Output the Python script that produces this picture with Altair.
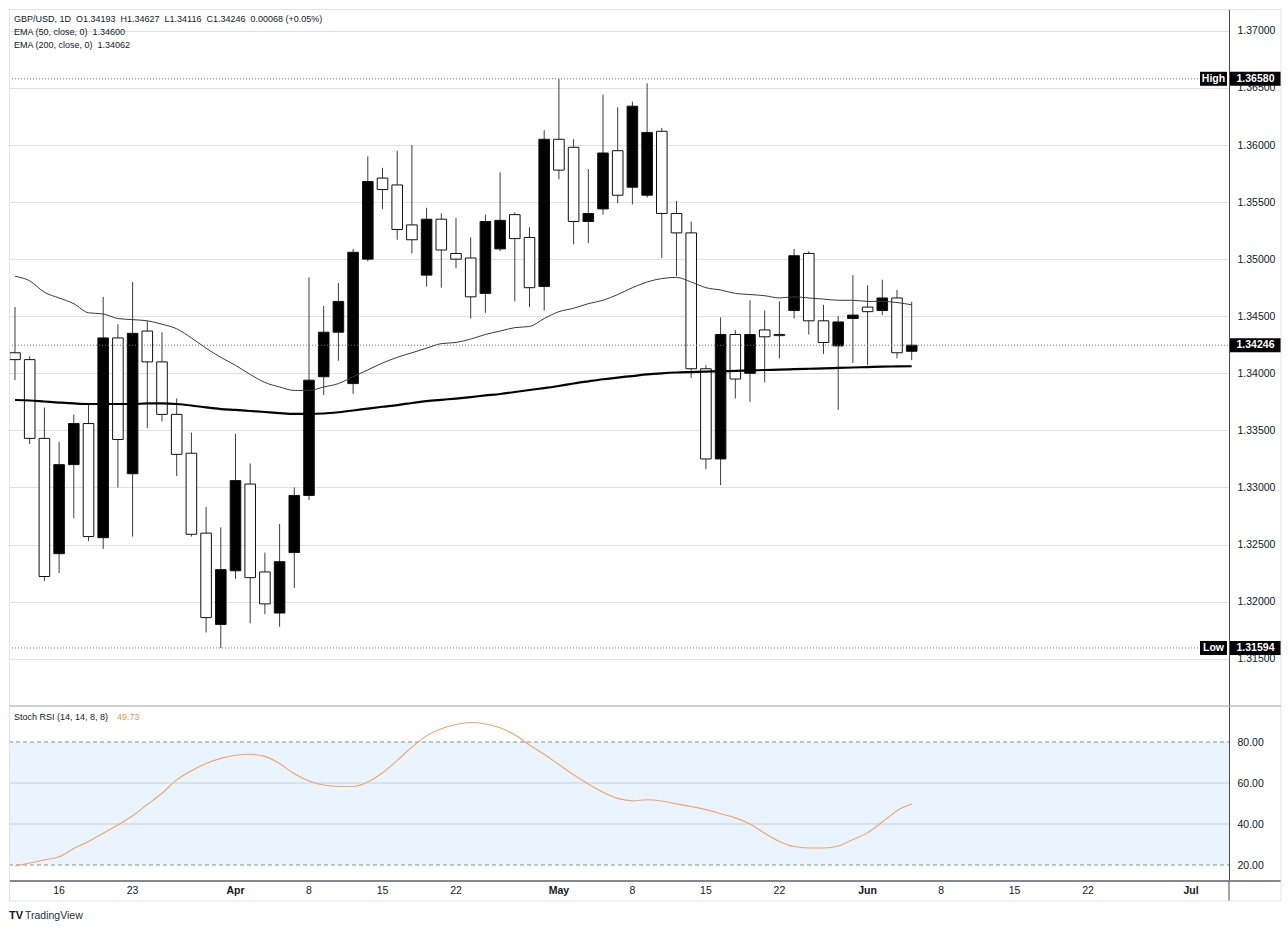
import altair as alt
import pandas as pd

# ---------------- data ----------------
opens = [1.3418, 1.3412, 1.3343, 1.3242, 1.3320, 1.3356, 1.3256, 1.3431, 1.3312, 1.3437,
         1.3410, 1.3364, 1.3330, 1.3260, 1.3180, 1.3227, 1.3303, 1.3226, 1.3190, 1.3243,
         1.3293, 1.3397, 1.3436, 1.3391, 1.3500, 1.3571, 1.3565, 1.3530, 1.3486, 1.3535,
         1.3505, 1.3501, 1.3470, 1.3509, 1.3539, 1.3519, 1.3476, 1.3605, 1.3598, 1.3533,
         1.3544, 1.3595, 1.3563, 1.3556, 1.3612, 1.3540, 1.3523, 1.3404, 1.3325, 1.3434,
         1.3400, 1.3438, 1.3434, 1.3455, 1.3505, 1.3446, 1.3424, 1.3448, 1.3458, 1.3455,
         1.3466, 1.34193]
highs = [1.3458, 1.3415, 1.3370, 1.3340, 1.3364, 1.3374, 1.3467, 1.3443, 1.3480, 1.3446,
         1.3436, 1.3378, 1.3348, 1.3283, 1.3265, 1.3347, 1.3321, 1.3243, 1.3268, 1.3300,
         1.3484, 1.3459, 1.3479, 1.3509, 1.3590, 1.3580, 1.3595, 1.3600, 1.3545, 1.3540,
         1.3536, 1.3519, 1.3539, 1.3576, 1.3541, 1.3528, 1.3613, 1.3658, 1.3605, 1.3579,
         1.3644, 1.3633, 1.3638, 1.3654, 1.3615, 1.3551, 1.3533, 1.3407, 1.3449, 1.3438,
         1.3464, 1.3455, 1.3463, 1.3509, 1.3507, 1.3460, 1.3450, 1.3486, 1.3477, 1.3482,
         1.3473, 1.34627]
lows = [1.3394, 1.3338, 1.3218, 1.3225, 1.3273, 1.3253, 1.3246, 1.3300, 1.3257, 1.3352,
        1.3358, 1.3310, 1.3257, 1.3173, 1.31594, 1.3220, 1.3181, 1.3189, 1.3178, 1.3212,
        1.3289, 1.3381, 1.3411, 1.3382, 1.3498, 1.3544, 1.3517, 1.3505, 1.3476, 1.3475,
        1.3492, 1.3448, 1.3453, 1.3507, 1.3463, 1.3458, 1.3455, 1.3570, 1.3513, 1.3514,
        1.3539, 1.3549, 1.3548, 1.3554, 1.3501, 1.3485, 1.3396, 1.3316, 1.3302, 1.3378,
        1.3375, 1.3392, 1.3413, 1.3448, 1.3434, 1.3417, 1.3368, 1.3409, 1.3407, 1.3451,
        1.3413, 1.34116]
closes = [1.3412, 1.3343, 1.3222, 1.3320, 1.3356, 1.3257, 1.3431, 1.3342, 1.3435, 1.3410,
          1.3364, 1.3329, 1.3259, 1.3186, 1.3228, 1.3306, 1.3221, 1.3198, 1.3235, 1.3293,
          1.3394, 1.3436, 1.3463, 1.3506, 1.3568, 1.3561, 1.3526, 1.3517, 1.3535, 1.3508,
          1.3500, 1.3467, 1.3533, 1.3534, 1.3518, 1.3475, 1.3605, 1.3578, 1.3533, 1.3540,
          1.3593, 1.3556, 1.3634, 1.3611, 1.3540, 1.3523, 1.3404, 1.3325, 1.3434, 1.3395,
          1.3434, 1.3432, 1.3433, 1.3503, 1.3446, 1.3427, 1.3445, 1.3451, 1.3454, 1.3466,
          1.3418, 1.34246]
ema50 = [1.3485, 1.3481, 1.3471, 1.3466, 1.3461, 1.3453, 1.3452, 1.3448, 1.3447, 1.3446,
         1.3443, 1.3439, 1.3431, 1.3422, 1.3414, 1.3407, 1.3399, 1.3392, 1.3388, 1.3385,
         1.3385, 1.3388, 1.3391, 1.3397, 1.3403, 1.3409, 1.3414, 1.3418, 1.3422, 1.3426,
         1.3427, 1.3430, 1.3434, 1.3437, 1.3440, 1.3441, 1.3448, 1.3454, 1.3457, 1.3461,
         1.3464, 1.3469, 1.3475, 1.3480, 1.3483, 1.3484, 1.3480, 1.3475, 1.3473, 1.3470,
         1.3469, 1.3468, 1.3466, 1.3467, 1.3466, 1.3465, 1.3464, 1.3464, 1.3463, 1.3463,
         1.3462, 1.34600]
ema200 = [1.33766, 1.33762, 1.33753, 1.33744, 1.33736, 1.33731, 1.33731, 1.33731, 1.33731, 1.33736,
          1.33736, 1.33731, 1.33718, 1.33701, 1.33687, 1.33679, 1.33670, 1.33661, 1.33652, 1.33645,
          1.33644, 1.33648, 1.33659, 1.33674, 1.33691, 1.33707, 1.33722, 1.33740, 1.33756, 1.33768,
          1.33779, 1.33792, 1.33806, 1.33819, 1.33836, 1.33854, 1.33871, 1.33889, 1.33911, 1.33930,
          1.33948, 1.33963, 1.33976, 1.33990, 1.34000, 1.34007, 1.34011, 1.34015, 1.34018, 1.34022,
          1.34025, 1.34029, 1.34032, 1.34036, 1.34040, 1.34043, 1.34047, 1.34051, 1.34055, 1.34059,
          1.34060, 1.34062]
stoch_rsi = [19.5, 21, 22.5, 24, 28, 31.5, 35.5, 39.5, 44, 49.5,
             55, 61.5, 66, 69.5, 72, 73.5, 74, 73, 69.5, 64.5,
             61, 59, 58.3, 58.3, 60.5, 65, 71, 77.5, 83, 86.5,
             88.5, 89.5, 88.8, 87, 83.5, 78.5, 74, 69, 64, 59.5,
             55.5, 52.5, 51.3, 51.8, 51.2, 49.8, 48.5, 47, 45, 43,
             40, 35.5, 31.5, 29, 28.3, 28.3, 29.3, 32.5, 35.8, 41,
             46.5, 49.73]

tick_index = [3, 8, 15, 20, 25, 30, 37, 42, 47, 52, 58, 63, 68, 73, 80]
tick_labels = ["16", "23", "Apr", "8", "15", "22", "May", "8", "15", "22", "Jun", "8", "15", "22", "Jul"]
price_ticks = [1.315, 1.32, 1.325, 1.33, 1.335, 1.34, 1.345, 1.35, 1.355, 1.36, 1.365, 1.37]
rsi_ticks = [20, 40, 60, 80]
rsi_grid = [40, 60]
rsi_bounds = [20, 80]
marker_names = ["High", "Low"]
marker_prices = [1.36580, 1.31594]
last_price = [1.34246]

NB = "\u00a0"
header_lines = [f"GBP/USD, 1D{NB*2}O1.34193{NB*2}H1.34627{NB*2}L1.34116{NB*2}C1.34246{NB*2}0.00068 (+0.05%)",
                f"EMA (50, close, 0){NB*2}1.34600",
                f"EMA (200, close, 0){NB*2}1.34062"]

# ---------------- tables ----------------
df = pd.DataFrame({"i": list(range(len(opens))), "open": opens, "high": highs, "low": lows,
                   "close": closes, "ema50": ema50, "ema200": ema200, "rsi": stoch_rsi})
marks_df = pd.DataFrame({"name": marker_names, "price": marker_prices,
                         "ptxt": [f"{p:.5f}" for p in marker_prices]})
last_df = pd.DataFrame({"price": last_price, "ptxt": [f"{p:.5f}" for p in last_price]})
ticks_df = pd.DataFrame({"i": tick_index, "lab": tick_labels,
                         "month": [1 if l.isalpha() else 0 for l in tick_labels]})

W, H1, H2 = 1220, 697, 175
FONT = "Liberation Sans"
TXT = "#131722"

xs = alt.Scale(domain=[-0.408, 82.585], nice=False, zero=False)
ys = alt.Scale(domain=[1.310856, 1.371914], nice=False, zero=False)
rs = alt.Scale(domain=[12.2, 97.56], nice=False, zero=False)

PAX = alt.Axis(orient="right", values=price_ticks, format=".5f", title=None, ticks=False,
               labelPadding=8, grid=True, gridColor="#dfe1e6", gridWidth=1,
               domainColor="#4a4a4a", labelFont=FONT, labelFontSize=10.5, labelColor=TXT,
               labelAlign="left")
RAX = alt.Axis(orient="right", values=rsi_ticks, format=".2f", title=None, ticks=False,
               labelPadding=8, grid=False, domainColor="#4a4a4a", labelFont=FONT,
               labelFontSize=10.5, labelColor=TXT, labelAlign="left")

def X(f):
    return alt.X(f, type="quantitative", scale=xs, axis=None)

def Y(f):
    return alt.Y(f, type="quantitative", scale=ys, axis=PAX)

def R(f):
    return alt.Y(f, type="quantitative", scale=rs, axis=RAX)

base = alt.Chart(df)

wicks = base.mark_rule(color="#3c3c3c", strokeWidth=1).encode(x=X("i"), y=Y("low"), y2="high")
bodies = base.transform_calculate(x0="datum.i - 0.36", x1="datum.i + 0.36").mark_rect(
    stroke="#111111", strokeWidth=1).encode(
    x=X("x0"), x2="x1", y=Y("open"), y2="close",
    fill=alt.condition("datum.close > datum.open", alt.value("#000000"), alt.value("#ffffff")))
ema50_line = base.mark_line(color="#3a3a3a", strokeWidth=1, interpolate="monotone").encode(
    x=X("i"), y=Y("ema50"))
ema200_line = base.mark_line(color="#000000", strokeWidth=2.2, interpolate="monotone").encode(
    x=X("i"), y=Y("ema200"))

mk = alt.Chart(marks_df)
hl_lines = mk.mark_rule(color="#6f7280", strokeDash=[1, 2], strokeWidth=1).encode(
    y=Y("price"), x=alt.value(0), x2=alt.value(1191))
name_box = mk.mark_rect(color="#000000", yOffset=-7, y2Offset=7).encode(
    y=Y("price"), y2="price", x=alt.value(1191), x2=alt.value(1218))
name_txt = mk.mark_text(color="#ffffff", font=FONT, fontSize=10.5, fontWeight="bold",
                        align="center", baseline="middle").encode(
    y=Y("price"), x=alt.value(1204.5), text="name:N")
val_box = mk.mark_rect(color="#000000", yOffset=-7, y2Offset=7).encode(
    y=Y("price"), y2="price", x=alt.value(1221), x2=alt.value(1272))
val_txt = mk.mark_text(color="#ffffff", font=FONT, fontSize=10.5, fontWeight="bold",
                       align="center", baseline="middle").encode(
    y=Y("price"), x=alt.value(1246.5), text="ptxt:N")

lp = alt.Chart(last_df)
last_line = lp.mark_rule(color="#6f7280", strokeDash=[1, 2], strokeWidth=1).encode(
    y=Y("price"), x=alt.value(0), x2=alt.value(W))
last_box = lp.mark_rect(color="#000000", yOffset=-7, y2Offset=7).encode(
    y=Y("price"), y2="price", x=alt.value(1221), x2=alt.value(1272))
last_txt = lp.mark_text(color="#ffffff", font=FONT, fontSize=10.5, fontWeight="bold",
                        align="center", baseline="middle").encode(
    y=Y("price"), x=alt.value(1246.5), text="ptxt:N")

hdr_base = alt.Chart(pd.DataFrame({"t": header_lines, "row": [0, 1, 2]}))
headers = []
for r, yy in zip([0, 1, 2], [10, 23, 36]):
    headers.append(hdr_base.transform_filter(f"datum.row == {r}").mark_text(
        align="left", baseline="middle", font=FONT, fontSize=9, color=TXT).encode(
        x=alt.value(5), y=alt.value(yy), text="t:N"))

frame_top = alt.Chart(pd.DataFrame({"a": [0]})).mark_rule(color="#e0e3eb", strokeWidth=1)
top_border = frame_top.encode(x=alt.value(0), x2=alt.value(1272), y=alt.value(0.5))
right_border = frame_top.encode(x=alt.value(1272), y=alt.value(0), y2=alt.value(H1))
left_border = frame_top.encode(x=alt.value(0.5), y=alt.value(0), y2=alt.value(H1))

top = alt.layer(wicks, bodies, ema50_line, ema200_line, hl_lines, last_line,
                name_box, name_txt, val_box, val_txt, last_box, last_txt,
                top_border, right_border, left_border, *headers).properties(width=W, height=H1)

# ---------------- RSI pane ----------------
band = alt.Chart(pd.DataFrame({"lo": [rsi_bounds[0]], "hi": [rsi_bounds[1]]})).mark_rect(
    color="#e9f4fe").encode(y=R("hi"), y2="lo", x=alt.value(0), x2=alt.value(W))
rgrid = alt.Chart(pd.DataFrame({"v": rsi_grid})).mark_rule(color="#c9d0d9", strokeWidth=1).encode(
    y=R("v"), x=alt.value(0), x2=alt.value(W))
rdash = alt.Chart(pd.DataFrame({"v": rsi_bounds})).mark_rule(
    color="#8a8d96", strokeWidth=1, strokeDash=[4, 3]).encode(
    y=R("v"), x=alt.value(0), x2=alt.value(W))
rsi_line = base.mark_line(color="#f0a468", strokeWidth=1.1, interpolate="monotone").encode(
    x=X("i"), y=R("rsi"))

rsi_title = alt.Chart(pd.DataFrame({"t": ["Stoch RSI (14, 14, 8, 8)"], "v": [f"{stoch_rsi[-1]:.2f}"]}))
rt1 = rsi_title.mark_text(align="left", baseline="middle", font=FONT, fontSize=9, color=TXT).encode(
    x=alt.value(5), y=alt.value(11), text="t:N")
rt2 = rsi_title.mark_text(align="left", baseline="middle", font=FONT, fontSize=9,
                          color="#e8964f").encode(x=alt.value(108), y=alt.value(11), text="v:N")

tk = alt.Chart(ticks_df)
xlab_day = tk.transform_filter("datum.month == 0").mark_text(
    baseline="middle", align="center", font=FONT, fontSize=10.5, color=TXT).encode(
    x=X("i"), y=alt.value(H2 + 10), text="lab:N")
xlab_mon = tk.transform_filter("datum.month == 1").mark_text(
    baseline="middle", align="center", font=FONT, fontSize=10.5, fontWeight="bold", color=TXT).encode(
    x=X("i"), y=alt.value(H2 + 10), text="lab:N")

fr = alt.Chart(pd.DataFrame({"a": [0]}))
divider = fr.mark_rule(color="#9a9da6", strokeWidth=1).encode(
    x=alt.value(0), x2=alt.value(1272), y=alt.value(0))
bottom_line = fr.mark_rule(color="#858893", strokeWidth=2).encode(
    x=alt.value(0), x2=alt.value(1272), y=alt.value(H2))
axis_ext = fr.mark_rule(color="#4a4a4a", strokeWidth=1).encode(
    x=alt.value(W), y=alt.value(H2), y2=alt.value(H2 + 20))
frame_bottom = fr.mark_rule(color="#e0e3eb", strokeWidth=1).encode(
    x=alt.value(0), x2=alt.value(1272), y=alt.value(H2 + 20))
frame_r2 = fr.mark_rule(color="#e0e3eb", strokeWidth=1).encode(
    x=alt.value(1272), y=alt.value(0), y2=alt.value(H2 + 20))
frame_l2 = fr.mark_rule(color="#e0e3eb", strokeWidth=1).encode(
    x=alt.value(0.5), y=alt.value(0), y2=alt.value(H2 + 20))
logo = fr.mark_text(align="left", baseline="middle", font=FONT, fontSize=11, fontWeight="bold",
                    color="#131722").encode(x=alt.value(0), y=alt.value(H2 + 35), text=alt.value("TV"))
logo_t = fr.mark_text(align="left", baseline="middle", font=FONT, fontSize=10.5,
                      color="#2a2e39").encode(x=alt.value(16), y=alt.value(H2 + 35),
                                              text=alt.value("TradingView"))

bottom = alt.layer(band, rgrid, rdash, rsi_line, rt1, rt2, xlab_day, xlab_mon, divider, bottom_line,
                   axis_ext, frame_bottom, frame_r2, frame_l2, logo, logo_t).properties(width=W, height=H2)

chart = alt.vconcat(top, bottom, spacing=0, bounds="flush").properties(
    padding={"left": 8, "top": 8, "right": 0, "bottom": 0}, background="#ffffff"
).configure_view(stroke=None)

chart.save("out.html", embed_options={"renderer": "svg", "actions": False})
